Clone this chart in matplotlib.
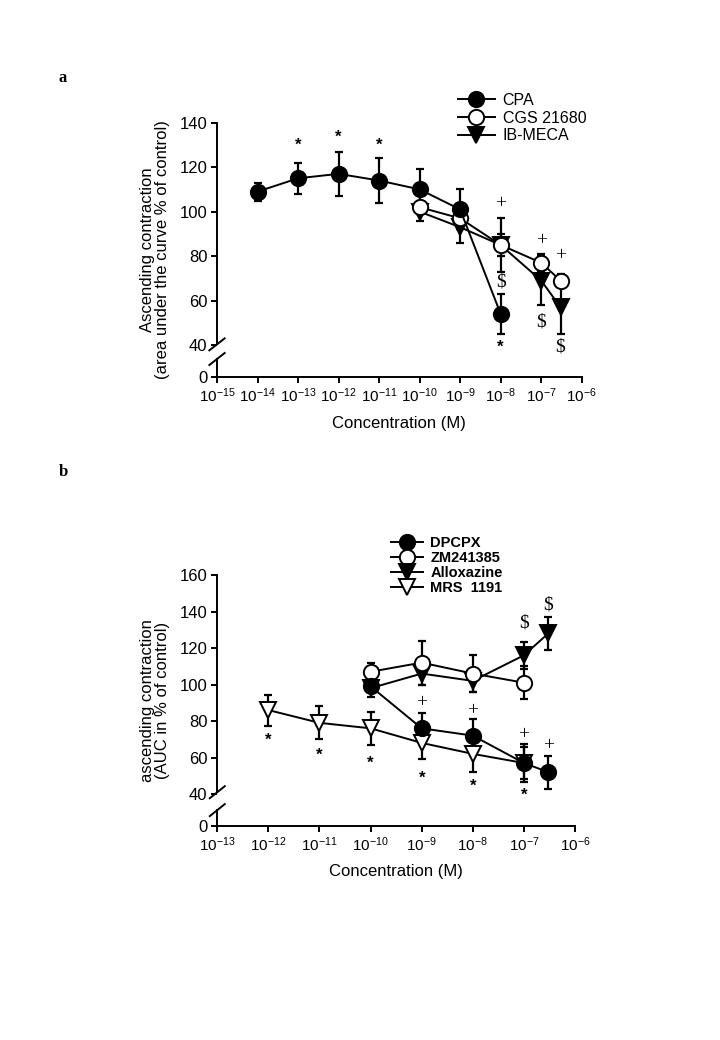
import numpy as np
import matplotlib
matplotlib.use('Agg')
import matplotlib.pyplot as plt
from matplotlib.transforms import blended_transform_factory

plt.rcParams['font.family'] = ['Liberation Sans', 'DejaVu Sans']
plt.rcParams['mathtext.default'] = 'regular'

# ---- panel a data ----
cpa_x = [1e-14, 1e-13, 1e-12, 1e-11, 1e-10, 1e-9, 1e-8]
cpa_y = [109, 115, 117, 114, 110, 101, 54]
cpa_err = [4, 7, 10, 10, 9, 9, 9]

cgs_x = [1e-10, 1e-9, 1e-8, 1e-7, 3e-7]
cgs_y = [102, 97, 85, 77, 69]
cgs_err = [3, 4, 5, 4, 3]

ibmeca_x = [1e-10, 1e-9, 1e-8, 1e-7, 3e-7]
ibmeca_y = [100, 93, 85, 69, 57]
ibmeca_err = [4, 7, 12, 11, 12]

# (x, y, symbol)
marks_a = [(1e-13, 130, '*'), (1e-12, 133.5, '*'), (1e-11, 130, '*'),
           (1e-8, 103.5, '+'), (1e-8, 68.5, '$'), (1e-8, 39, '*'),
           (1e-7, 87, '+'), (1e-7, 50.5, '$'),
           (3e-7, 80, '+'), (3e-7, 39, '$')]

# ---- panel b data ----
dpcpx_x = [1e-10, 1e-9, 1e-8, 1e-7, 3e-7]
dpcpx_y = [99, 76, 72, 57, 52]
dpcpx_err = [3, 8.5, 9, 9, 9]

zm_x = [1e-10, 1e-9, 1e-8, 1e-7]
zm_y = [107, 112, 106, 101]
zm_err = [5, 12, 10, 9]

allox_x = [1e-10, 1e-9, 1e-8, 1e-7, 3e-7]
allox_y = [98, 106, 102, 116, 128]
allox_err = [5, 6, 6, 7.5, 9]

mrs_x = [1e-12, 1e-11, 1e-10, 1e-9, 1e-8, 1e-7]
mrs_y = [86, 79, 76, 68, 62, 57]
mrs_err = [8.5, 9, 9, 9, 10, 10.5]

marks_b = [(1e-12, 69.5, '*'), (1e-11, 61.5, '*'), (1e-10, 57, '*'),
           (1e-9, 48.5, '*'), (1e-8, 44, '*'), (1e-7, 39.5, '*'),
           (1e-9, 90, '+'), (1e-8, 85.5, '+'), (1e-7, 72.5, '+'),
           (3e-7, 66.5, '+'), (1e-7, 133.5, '$'), (3e-7, 143.5, '$')]

LW = 1.4
SERIF = ['Liberation Serif', 'DejaVu Serif']


def add_series(ax, x, y, err, marker, face, label, ms=11):
    ax.errorbar(x, y, yerr=err, fmt='none', ecolor='black',
                elinewidth=1.6, capsize=3, capthick=1.6, zorder=2)
    line, = ax.plot(x, y, '-', color='black', lw=LW, marker=marker,
                    markersize=ms, markerfacecolor=face,
                    markeredgecolor='black', markeredgewidth=1.4,
                    label=label, zorder=3)
    return line


def style_axes(ax, e_lo, e_hi, ytop, zero_pos, breaks, ytick_vals):
    ax.set_xscale('log')
    ax.set_xlim(10.0 ** e_lo, 10.0 ** e_hi)
    ax.set_ylim(zero_pos, ytop)
    ax.minorticks_off()
    exps = list(range(e_lo, e_hi + 1))
    ax.set_xticks([10.0 ** e for e in exps])
    ax.set_xticklabels(['$10^{%d}$' % e for e in exps])
    ax.set_yticks([zero_pos] + ytick_vals)
    ax.set_yticklabels(['0'] + [str(v) for v in ytick_vals])
    ax.tick_params(direction='out', length=4, width=1.4, pad=3)
    ax.tick_params(axis='x', labelsize=11)
    ax.tick_params(axis='y', labelsize=12)
    for s in ['top', 'right']:
        ax.spines[s].set_visible(False)
    ax.spines['bottom'].set_linewidth(LW)
    ax.spines['left'].set_linewidth(LW)
    hi_break, lo_break, dy = breaks
    ax.spines['left'].set_bounds(hi_break, ytop)
    tr = blended_transform_factory(ax.transAxes, ax.transData)
    ax.plot([0, 0], [zero_pos, lo_break], color='black', lw=LW,
            transform=tr, clip_on=False)
    for yb in (hi_break, lo_break):
        ax.plot([-0.021, 0.021], [yb - dy, yb + dy], color='black', lw=LW,
                transform=tr, clip_on=False)


def add_marks(ax, marks):
    for x, y, s in marks:
        if s == '*':
            ax.text(x, y, s, ha='center', va='center', fontsize=12,
                    fontweight='bold')
        else:
            ax.text(x, y, s, ha='center', va='center', fontsize=14,
                    family=SERIF)


fig = plt.figure(figsize=(7.2, 10.4), dpi=100)

# ---- panel a ----
ax = fig.add_axes([0.3014, 0.6378, 0.5065, 0.2442])
h1 = add_series(ax, ibmeca_x, ibmeca_y, ibmeca_err, 'v', 'black', 'IB-MECA')
h2 = add_series(ax, cgs_x, cgs_y, cgs_err, 'o', 'white', 'CGS 21680')
h3 = add_series(ax, cpa_x, cpa_y, cpa_err, 'o', 'black', 'CPA')
style_axes(ax, -15, -6, 140, 25.75, (40.3, 33.7, 2.7),
           [40, 60, 80, 100, 120, 140])
add_marks(ax, marks_a)
ax.set_xlabel('Concentration (M)', fontsize=12)
ax.xaxis.set_label_coords(0.5, -0.155)
ax.set_ylabel('Ascending contraction\n(area under the curve % of control)',
              fontsize=12, linespacing=1.0)
ax.yaxis.set_label_coords(-0.13, 0.5)
ax.legend(handles=[h3, h2, h1], loc='upper left',
          bbox_to_anchor=(458 / 720, 1 - 93 / 1040),
          bbox_transform=fig.transFigure, frameon=False, fontsize=11.5,
          handlelength=2.3, handletextpad=0.5, borderpad=0,
          borderaxespad=0, labelspacing=0.16, numpoints=1)
fig.text(63 / 720, 1 - 78 / 1040, 'a', fontsize=12, fontweight='bold',
         family=SERIF, ha='center', va='center')

# ---- panel b ----
ax = fig.add_axes([0.3018, 0.2058, 0.4968, 0.2413])
g4 = add_series(ax, mrs_x, mrs_y, mrs_err, 'v', 'white', 'MRS  1191', ms=12)
g3 = add_series(ax, allox_x, allox_y, allox_err, 'v', 'black', 'Alloxazine', ms=12)
g2 = add_series(ax, zm_x, zm_y, zm_err, 'o', 'white', 'ZM241385', ms=11)
g1 = add_series(ax, dpcpx_x, dpcpx_y, dpcpx_err, 'o', 'black', 'DPCPX', ms=11)
style_axes(ax, -13, -6, 160, 22.5, (41, 31.2, 3.3),
           [40, 60, 80, 100, 120, 140, 160])
add_marks(ax, marks_b)
ax.set_xlabel('Concentration (M)', fontsize=12)
ax.xaxis.set_label_coords(0.5, -0.152)
ax.set_ylabel('ascending contraction\n(AUC in % of control)',
              fontsize=12, linespacing=1.0)
ax.yaxis.set_label_coords(-0.133, 0.5)
ax.legend(handles=[g1, g2, g3, g4], loc='upper left',
          bbox_to_anchor=(391 / 720, 1 - 536 / 1040),
          bbox_transform=fig.transFigure, frameon=False,
          prop={'size': 10.5, 'weight': 'bold'},
          handlelength=2.2, handletextpad=0.5, borderpad=0,
          borderaxespad=0, labelspacing=0.08, numpoints=1)
fig.text(63 / 720, 1 - 472 / 1040, 'b', fontsize=12, fontweight='bold',
         family=SERIF, ha='center', va='center')

fig.savefig('out.png', dpi=100)
